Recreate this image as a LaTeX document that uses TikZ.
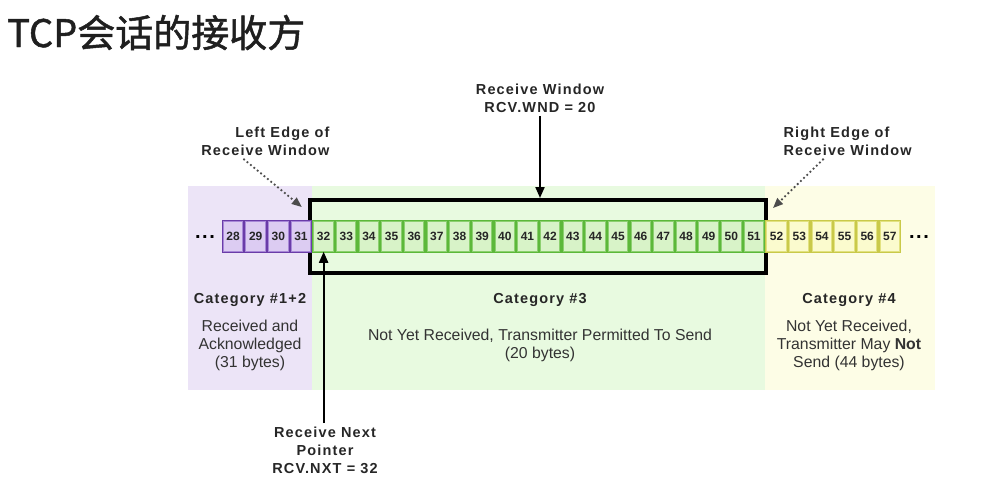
\documentclass[tikz,border=0pt]{standalone}
\usepackage{fontspec}
\usepackage{xcolor}
\setmainfont{Liberation Sans}
\newfontfamily\cjk[FakeBold=1.3]{Noto Sans CJK SC}
\newfontfamily\spaced[LetterSpace=8]{Liberation Sans}
\usetikzlibrary{arrows.meta}
\definecolor{pBg}{HTML}{ECE4F7}
\definecolor{gBg}{HTML}{E8FAE0}
\definecolor{yBg}{HTML}{FDFDE6}
\definecolor{pDark}{HTML}{6A3CA8}
\definecolor{pMid}{HTML}{A888D8}
\definecolor{pLight}{HTML}{DCCCF2}
\definecolor{gDark}{HTML}{5CB83A}
\definecolor{gMid}{HTML}{8CD070}
\definecolor{gLight}{HTML}{D8F3C8}
\definecolor{yDark}{HTML}{C9C94A}
\definecolor{yMid}{HTML}{E2E280}
\definecolor{yLight}{HTML}{FBFBCE}

\begin{document}
\begin{tikzpicture}[x=1pt,y=-1pt]
\tikzstyle{cell} = [minimum width=19.4, minimum height=29.5, inner sep=0, line width=1, text=black!85, font=\bfseries\fontsize{12}{12}\selectfont];
\tikzstyle{pcell} = [cell, fill=pLight, draw=pMid];
\tikzstyle{gcell} = [cell, fill=gLight, draw=gMid];
\tikzstyle{ycell} = [cell, fill=yLight, draw=yMid];
\tikzstyle{label} = [font=\spaced\bfseries\fontsize{14.5}{18}\selectfont, text=black!85, align=center];
\tikzstyle{body} = [font=\fontsize{15.8}{18}\selectfont, text=black!80, align=center];
\tikzstyle{pointer} = [-{Triangle[length=11,width=9]}, line width=2];
\tikzstyle{edge} = [-{Triangle[length=10,width=8]}, line width=1.8, dash pattern=on 1.8pt off 2.6pt, black!70];
\useasboundingbox (0,0) rectangle (999,498);
\node [font=\cjk\fontsize{38}{40}\selectfont, anchor=base west, inner sep=0, text=black!88] (title) at (7,47) {TCP会话的接收方};
% category backgrounds
\fill [pBg] (188,186) rectangle (312.3,390);
\fill [gBg] (312.3,186) rectangle (765.3,390);
\fill [yBg] (765.3,186) rectangle (935,390);
\node [draw, line width=4, minimum width=456.3, minimum height=73, inner sep=0] (win) at (537.9,236.5) {};
% byte cells
\fill [pDark] (221.7,220) rectangle (312.3,253);
\fill [gDark] (312.3,220) rectangle (765.3,253);
\fill [yDark] (765.3,220) rectangle (901.2,253);
\foreach \n in {28,...,31} \node [pcell] (c\n) at ({221.7+22.65*(\n-27.5)},236.5) {\n};
\foreach \n in {32,...,51} \node [gcell] (c\n) at ({221.7+22.65*(\n-27.5)},236.5) {\n};
\foreach \n in {52,...,57} \node [ycell] (c\n) at ({221.7+22.65*(\n-27.5)},236.5) {\n};
\node [font=\spaced\bfseries\fontsize{20}{20}\selectfont, inner sep=0] (ldots) at (205,237) {...};
\node [font=\spaced\bfseries\fontsize{20}{20}\selectfont, inner sep=0] (rdots) at (919,237) {...};
% labels
\node [label] (wnd) at (540,98) {Receive Window\\RCV.WND = 20};
\node [label, align=right, anchor=east] (ledge) at (333,141) {Left Edge of\\Receive Window};
\node [label, align=left, anchor=west] (redge) at (780,141) {Right Edge of\\Receive Window};
\node [label] (nxt) at (325,450) {Receive Next\\Pointer\\RCV.NXT = 32};
\draw [pointer] (wnd.south) -- (wnd.south |- win.north);
\draw [edge] ([xshift=-22]ledge.south) -- ([xshift=-6,yshift=-9]win.north west);
\draw [edge] ([xshift=-24]redge.south) -- ([xshift=5,yshift=-10]win.north east);
\draw [pointer] (c32.south |- nxt.north) -- (c32.south);
\node [label] (cat12) at (250,300) {Category \#1+2};
\node [body] (acked) at (250,345) {Received and\\Acknowledged\\(31 bytes)};
\node [label] (cat3) at (540,300) {Category \#3};
\node [body] (permit) at (540,345) {Not Yet Received, Transmitter Permitted To Send\\(20 bytes)};
\node [label] (cat4) at (849,300) {Category \#4};
\node [body] (notyet) at (849,345) {Not Yet Received,\\Transmitter May \textbf{Not}\\Send (44 bytes)};
\end{tikzpicture}
\end{document}
